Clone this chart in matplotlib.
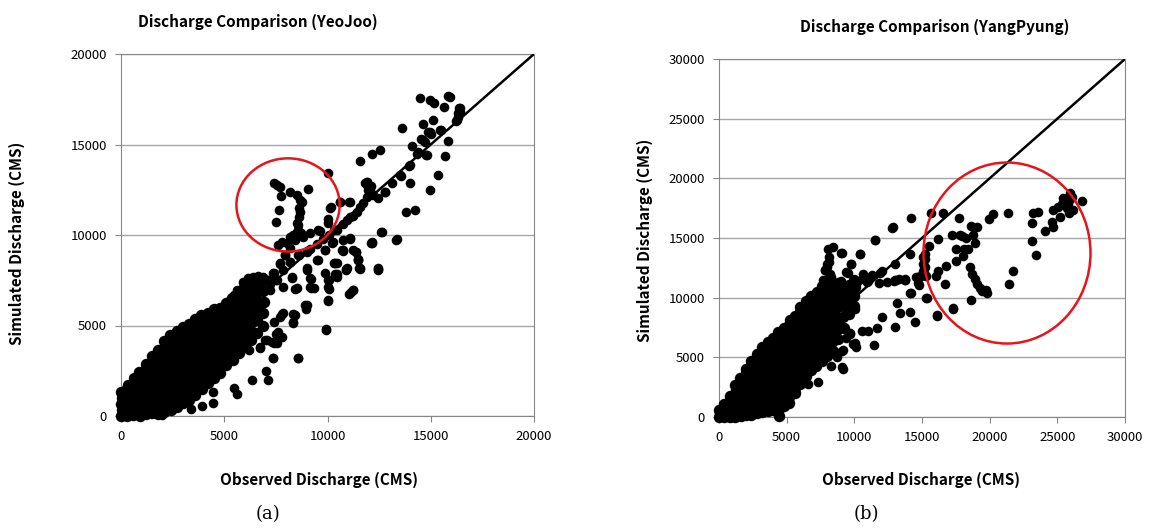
import matplotlib
matplotlib.use("Agg")
import matplotlib.pyplot as plt
from matplotlib.patches import Ellipse

# YeoJoo: (observed, simulated) discharge, CMS
a_cloud = [
    (0, 20), (30, 330), (0, 660), (50, 990), (20, 1320), (150, 1180),
    (300, 0), (280, 360), (320, 700), (290, 1050), (260, 1410), (330, 1690),
    (600, 60), (580, 390), (620, 760), (600, 1090), (560, 1450), (640, 1790), (610, 2110),
    (900, 0), (880, 320), (930, 660), (900, 990), (870, 1360), (930, 1700), (900, 2060), (880, 2440),
    (1200, 90), (1180, 440), (1230, 800), (1200, 1160), (1170, 1490), (1230, 1860), (1200, 2210), (1180, 2560), (1220, 2900),
    (1500, 150), (1480, 510), (1520, 850), (1500, 1210), (1470, 1550), (1530, 1890), (1500, 2260), (1480, 2600), (1520, 2950), (1500, 3310),
    (1800, 110), (1780, 450), (1820, 810), (1800, 1150), (1770, 1500), (1830, 1860), (1800, 2200), (1780, 2560), (1820, 2900), (1800, 3260), (1770, 3620),
    (2100, 240), (2080, 600), (2120, 950), (2100, 1300), (2070, 1660), (2130, 2000), (2100, 2350), (2080, 2710), (2120, 3050), (2100, 3400), (2080, 3760), (2060, 4150),
    (2400, 350), (2380, 700), (2420, 1050), (2400, 1400), (2370, 1750), (2430, 2100), (2400, 2450), (2380, 2800), (2420, 3150), (2400, 3500), (2370, 3850), (2410, 4200), (2380, 4500),
    (2700, 500), (2680, 850), (2720, 1200), (2700, 1550), (2670, 1900), (2730, 2250), (2700, 2600), (2680, 2950), (2720, 3300), (2700, 3650), (2670, 4000), (2710, 4350), (2690, 4700),
    (3000, 700), (2980, 1050), (3020, 1400), (3000, 1750), (2970, 2100), (3030, 2450), (3000, 2800), (2980, 3150), (3020, 3500), (3000, 3850), (2970, 4200), (3010, 4550), (2990, 4900),
    (3300, 900), (3280, 1250), (3320, 1600), (3300, 1950), (3270, 2300), (3330, 2650), (3300, 3000), (3280, 3350), (3320, 3700), (3300, 4050), (3270, 4400), (3310, 4750), (3290, 5100),
    (3600, 1150), (3580, 1500), (3620, 1850), (3600, 2200), (3570, 2550), (3630, 2900), (3600, 3250), (3580, 3600), (3620, 3950), (3600, 4300), (3570, 4650), (3610, 5000), (3590, 5350),
    (3900, 1500), (3880, 1850), (3920, 2200), (3900, 2550), (3870, 2900), (3930, 3250), (3900, 3600), (3880, 3950), (3920, 4300), (3900, 4650), (3870, 5000), (3910, 5300), (3890, 5600),
    (4200, 1800), (4180, 2150), (4220, 2500), (4200, 2850), (4170, 3200), (4230, 3550), (4200, 3900), (4180, 4250), (4220, 4600), (4200, 4950), (4170, 5300), (4210, 5700),
    (4500, 2100), (4480, 2450), (4520, 2800), (4500, 3150), (4470, 3500), (4530, 3850), (4500, 4200), (4480, 4550), (4520, 4900), (4500, 5250), (4470, 5600), (4510, 5900),
    (4800, 2400), (4780, 2750), (4820, 3100), (4800, 3450), (4770, 3800), (4830, 4150), (4800, 4500), (4780, 4850), (4820, 5200), (4800, 5550), (4790, 5950),
    (5100, 2800), (5080, 3150), (5120, 3500), (5100, 3850), (5070, 4200), (5130, 4550), (5100, 4900), (5080, 5250), (5120, 5600), (5100, 5950), (5090, 6250),
    (5400, 3100), (5380, 3450), (5420, 3800), (5400, 4150), (5370, 4500), (5430, 4850), (5400, 5200), (5380, 5550), (5420, 5900), (5400, 6200), (5390, 6500),
    (5700, 3500), (5680, 3850), (5720, 4200), (5700, 4550), (5670, 4900), (5730, 5250), (5700, 5600), (5680, 5950), (5720, 6300), (5700, 6700),
    (6000, 3800), (5980, 4300), (6020, 4800), (6000, 5300), (5970, 5800), (6030, 6300), (6000, 6700), (5980, 7100),
    (6300, 4200), (6280, 4700), (6320, 5200), (6300, 5700), (6270, 6200), (6330, 6700), (6300, 7300),
    (6600, 4600), (6580, 5300), (6620, 5900), (6600, 6400), (6570, 6900), (6630, 7500),
    (6900, 5000), (6880, 5700), (6920, 6300), (6900, 6900), (6870, 7500),
]

a_band = [
    (5300, 6400), (5450, 6700), (5600, 6950), (5900, 7400), (6150, 7600), (6400, 7700),
    (6650, 7750), (6900, 7700), (7050, 7500), (7200, 7300), (5800, 6300), (6000, 6700), (6200, 7000),
    (6500, 6800), (6800, 7100), (7100, 7500), (7400, 7900), (7700, 8400), (7950, 8900),
    (8200, 9300), (8450, 9700), (8700, 10100), (7200, 6950), (7500, 7500), (7850, 8050),
    (8200, 8500), (8600, 8900), (9000, 9100), (9150, 9250), (9500, 9500), (9800, 9800),
    (10050, 10000), (10300, 10250), (10450, 10300), (10750, 10600), (10930, 10830),
    (11100, 11000), (11250, 11050), (11410, 11290), (11560, 11550), (11740, 11750),
    (11900, 12100), (11980, 12490), (11820, 12860), (7540, 7510), (7380, 7880), (7700, 8430),
    (7940, 8900), (8180, 8530), (8590, 8890), (8990, 9080), (10280, 9630), (10770, 9720),
    (11090, 9820), (12060, 12490), (12220, 12210), (12460, 12030), (12790, 12400),
    (13110, 12860), (13510, 13320), (14000, 13870), (14400, 14600), (14800, 14420),
    (14640, 15250), (14960, 15710), (15450, 15800), (16260, 16350), (16340, 16720),
    (16420, 17000), (16370, 16990), (16440, 16810), (16320, 16530), (16240, 16290),
    (11900, 12950), (12100, 12700),
]

a_circle = [
    (7420, 12900), (7550, 12780), (7700, 12670), (7750, 12170), (8180, 12360), (8510, 12210),
    (8660, 11960), (8750, 11840), (8640, 11480), (8640, 11010), (8510, 10650), (8590, 10280),
    (9070, 12530), (7670, 11380), (7490, 10740), (8350, 10000), (8020, 9540), (7620, 9450),
    (7820, 9620), (8180, 9900), (8500, 10170), (8830, 9910), (9150, 10090), (9560, 10280),
    (9630, 10230), (10040, 10650), (10120, 11480), (10600, 11840), (11090, 11840),
    (10030, 13400), (10150, 11520), (8590, 10540), (8650, 11270),
]

a_scatter = [
    (14470, 17550), (14950, 17450), (15160, 17270), (15840, 17680), (15950, 17640), (15650, 17090),
    (13630, 15920), (14630, 16130), (15110, 16350), (14870, 15700), (15030, 15570), (15490, 15790),
    (15840, 15190), (14070, 14930), (14520, 15300), (14710, 15150), (14760, 14410), (15680, 14360),
    (14310, 14490), (13950, 13800), (13550, 13250), (15360, 13310), (13990, 12880), (14950, 12480),
    (13820, 11280), (14230, 11370), (12780, 12390), (12160, 14500), (12530, 14690), (11570, 14100),
    (11890, 12940), (11970, 12660), (12610, 10170), (12130, 9570), (13340, 9750), (12440, 8090),
    (11530, 8150), (11400, 9070), (11480, 8640), (10890, 8090), (11080, 9790), (10600, 11800),
    (11050, 11800), (10030, 10860), (10230, 9580), (9870, 9160), (10680, 9160), (9520, 8610),
    (10320, 8460), (10440, 7870), (10370, 7720), (9000, 8050), (9180, 7560), (9210, 7080),
    (9370, 7080), (10080, 7500), (10080, 7040), (10000, 6340), (8260, 7630), (8420, 7040),
    (8900, 6120), (8980, 5930), (11050, 6760), (11240, 6950), (9920, 4770), (8570, 3210),
    (8340, 5620), (8340, 5140), (7820, 5660), (7400, 5200), (7530, 4550), (7780, 4370),
    (7400, 4040), (6970, 4180), (6730, 3760), (6210, 3630), (7370, 3210), (7020, 2490),
    (7100, 2010), (6320, 1970), (5480, 1570), (5630, 1200), (4470, 1330), (4470, 720),
    (3900, 530), (3390, 400), (1970, 40), (7300, 4110),
    (9480, 8620), (8990, 8160), (9880, 9170), (10360, 8440), (10770, 9170), (11250, 9170),
    (11490, 8620), (11570, 8160), (10930, 8160), (9880, 7880), (10450, 7700), (10040, 7510),
    (9150, 7610), (9150, 7150), (10040, 7150), (10040, 6410), (11250, 6960), (12140, 9630),
    (12460, 8160), (8270, 7700), (8510, 7050), (7860, 7150), (8990, 6130), (7860, 5670),
    (8430, 5580), (8350, 5210), (7700, 5490), (7620, 4660), (7540, 4020), (7050, 4200),
    (6730, 3830), (7380, 3190), (8590, 3190), (9930, 4790),
    (12630, 10180), (13350, 9760), (12140, 9540), (10740, 9130), (11380, 9080), (11490, 8660),
    (11570, 8120), (12460, 8100), (10900, 8120), (10450, 8470), (10360, 7850), (11120, 6870),
]

# YangPyung
b_cloud = [
    (0, 0), (60, 300), (30, 560), (150, 150),
    (400, 0), (380, 400), (420, 800), (400, 1100),
    (800, 0), (780, 450), (820, 900), (800, 1350), (780, 1800),
    (1200, 0), (1180, 450), (1220, 900), (1200, 1350), (1170, 1800), (1230, 2250), (1200, 2650),
    (1600, 100), (1580, 550), (1620, 1000), (1600, 1450), (1570, 1900), (1630, 2350), (1600, 2800), (1580, 3250),
    (2000, 150), (1980, 600), (2020, 1050), (2000, 1500), (1970, 1950), (2030, 2400), (2000, 2850), (1980, 3300), (2020, 3700), (1990, 4050),
    (2400, 200), (2380, 650), (2420, 1100), (2400, 1550), (2370, 2000), (2430, 2450), (2400, 2900), (2380, 3350), (2420, 3800), (2400, 4250), (2380, 4700),
    (2800, 300), (2780, 750), (2820, 1200), (2800, 1650), (2770, 2100), (2830, 2550), (2800, 3000), (2780, 3450), (2820, 3900), (2800, 4350), (2770, 4800), (2810, 5250),
    (3200, 400), (3180, 850), (3220, 1300), (3200, 1750), (3170, 2200), (3230, 2650), (3200, 3100), (3180, 3550), (3220, 4000), (3200, 4450), (3170, 4900), (3210, 5400), (3190, 5900),
    (3600, 500), (3580, 950), (3620, 1400), (3600, 1850), (3570, 2300), (3630, 2750), (3600, 3200), (3580, 3650), (3620, 4100), (3600, 4550), (3570, 5000), (3610, 5500), (3590, 5950), (3600, 6300),
    (4000, 600), (3980, 1050), (4020, 1500), (4000, 1950), (3970, 2400), (4030, 2850), (4000, 3300), (3980, 3750), (4020, 4200), (4000, 4650), (3970, 5100), (4010, 5600), (3990, 6100), (4000, 6600),
    (4400, 100), (4400, 700), (4380, 1150), (4420, 1600), (4400, 2050), (4370, 2500), (4430, 2950), (4400, 3400), (4380, 3850), (4420, 4300), (4400, 4750), (4370, 5200), (4410, 5700), (4390, 6200), (4400, 6700), (4380, 7100),
    (4800, 900), (4780, 1350), (4820, 1800), (4800, 2250), (4770, 2700), (4830, 3150), (4800, 3600), (4780, 4050), (4820, 4500), (4800, 4950), (4770, 5400), (4810, 5900), (4790, 6400), (4800, 6900), (4780, 7450),
    (5200, 1200), (5180, 1650), (5220, 2100), (5200, 2550), (5170, 3000), (5230, 3450), (5200, 3900), (5180, 4350), (5220, 4800), (5200, 5250), (5170, 5700), (5210, 6200), (5190, 6700), (5200, 7200), (5180, 7700), (5210, 8100),
    (5600, 2000), (5580, 2450), (5620, 2900), (5600, 3350), (5570, 3800), (5630, 4250), (5600, 4700), (5580, 5150), (5620, 5600), (5600, 6050), (5570, 6500), (5610, 7000), (5590, 7500), (5600, 8000), (5580, 8500),
    (6000, 2800), (5980, 3300), (6020, 3800), (6000, 4300), (5970, 4800), (6030, 5300), (6000, 5800), (5980, 6300), (6020, 6800), (6000, 7300), (5970, 7800), (6010, 8300), (5990, 8800), (6000, 9200),
    (6400, 3400), (6380, 3900), (6420, 4400), (6400, 4900), (6370, 5400), (6430, 5900), (6400, 6400), (6380, 6900), (6420, 7400), (6400, 7900), (6370, 8400), (6410, 8900), (6390, 9300), (6400, 9700),
    (6800, 3900), (6780, 4500), (6820, 5100), (6800, 5700), (6770, 6300), (6830, 6900), (6800, 7500), (6780, 8100), (6820, 8700), (6800, 9300), (6770, 9800), (6810, 10100),
    (7200, 4300), (7180, 4900), (7220, 5500), (7200, 6100), (7170, 6700), (7230, 7300), (7200, 7900), (7180, 8500), (7220, 9100), (7200, 9600), (7170, 10100), (7210, 10500),
    (7600, 4700), (7580, 5300), (7620, 5900), (7600, 6500), (7570, 7100), (7630, 7800), (7600, 8500), (7580, 9200), (7620, 9900), (7600, 10500), (7580, 11000),
    (8000, 5100), (7980, 5800), (8020, 6500), (8000, 7300), (7970, 8100), (8030, 8900), (8000, 9700), (7980, 10400), (8020, 11000), (8000, 11500),
    (8400, 5500), (8380, 6300), (8420, 7200), (8400, 8000), (8370, 8800), (8430, 9600), (8400, 10400), (8380, 11000),
    (8800, 6500), (8780, 7400), (8820, 8300), (8800, 9200), (8770, 10000), (8830, 10800),
    (9200, 7500), (9180, 8400), (9220, 9300), (9200, 10100), (9170, 10900),
    (9600, 8600), (9580, 9500), (9620, 10300), (9600, 11100),
    (10000, 9300), (9980, 10100), (10020, 10900), (10000, 11500),
]

b_scatter = [
    (8060, 14120), (8430, 14260), (8130, 13420), (7990, 12580), (8180, 12020), (7810, 12300),
    (8100, 13000), (8000, 12800), (8310, 11740), (7700, 11500), (7850, 11200),
    (9050, 13780), (10450, 13620), (9790, 12810), (9420, 12160), (9240, 10570), (9400, 10300),
    (9840, 9280), (9660, 9000), (10030, 9090), (10650, 12020), (10650, 11600), (10900, 11320),
    (11340, 11880), (11830, 11240), (12080, 12250), (11540, 14820), (12820, 15850), (14220, 16640),
    (12920, 11410), (13100, 11500), (13310, 11550), (13730, 11460), (14100, 13640), (13040, 12780),
    (14670, 11690), (14910, 11830), (14770, 11040), (14170, 10350), (15330, 10010), (15700, 17060),
    (16570, 17060), (15500, 14340), (15090, 13420), (15090, 12800), (15100, 12200), (15200, 13700),
    (15250, 13200), (15220, 12600), (15180, 12100), (15260, 11800), (16150, 14900), (16200, 12220),
    (16070, 11800), (16760, 12640), (16690, 11180), (16120, 8500), (17300, 9090), (17180, 15240),
    (17750, 16640), (17800, 15290), (17950, 15200), (18240, 14960), (17480, 14120), (17500, 13060),
    (18090, 14040), (18410, 14040), (18040, 13480), (18610, 15990), (19080, 15940), (18780, 15240),
    (18950, 14600), (18540, 12580), (18660, 12020), (18910, 11600), (19080, 11180), (19320, 10850),
    (19470, 10570), (19720, 10680), (19770, 10350), (18610, 9790), (19970, 16580), (20260, 17000),
    (21370, 17110), (21420, 11180), (21690, 12250), (23100, 16220), (23170, 17110), (23590, 17200),
    (23100, 14760), (23400, 13560), (24090, 15570), (24580, 16360), (24650, 17340), (24700, 15940),
    (25070, 17620), (25320, 17810), (25200, 16780), (25390, 18320), (25810, 17810), (25930, 18730),
    (26060, 18460), (25890, 17060), (26130, 17340), (26800, 18120), (25950, 18300), (25700, 17500),
    (10170, 11340), (10660, 11620), (11000, 11400), (11900, 12040), (12390, 11340), (13000, 11480),
    (13740, 11480), (14730, 11760), (14560, 11760), (13740, 11540), (14730, 11200), (14110, 10370),
    (15350, 9950), (16080, 8550), (17320, 9110), (13130, 9530), (13370, 8690), (14110, 8830),
    (14480, 7990), (13000, 7570), (12020, 8410), (11650, 7430), (11030, 7240), (10540, 7240),
    (9680, 7010), (10050, 6170), (11480, 6030), (9070, 4220), (12880, 15950), (11530, 14830),
    (9070, 13770), (10420, 13630), (9730, 12820), (9510, 12100), (7830, 12320),
    (9170, 4050), (7320, 2940), (6580, 2800), (8700, 5000), (9100, 5500), (8300, 4300),
    (9660, 6990), (9910, 6150), (10160, 5870), (9170, 5590), (9400, 6600), (8900, 7600),
    (9500, 10900), (9000, 11400), (8800, 11300),
]

W, H = 1153, 529
fig = plt.figure(figsize=(W / 100, H / 100), dpi=100)
plt.rcParams['font.family'] = ['Noto Sans CJK KR', 'DejaVu Sans']

ax1 = fig.add_axes([121 / W, 1 - 416 / H, 413 / W, 362 / H])
ax2 = fig.add_axes([719 / W, 1 - 417 / H, 406 / W, 358 / H])


def style(ax, top):
    ax.set_xlim(0, top)
    ax.set_ylim(0, top)
    ax.set_xticks(range(0, top + 1, 5000))
    ax.set_yticks(range(0, top + 1, 5000))
    ax.yaxis.grid(True, color='#a6a6a6', lw=1)
    ax.set_axisbelow(True)
    for s in ax.spines.values():
        s.set_color('#868686')
    ax.tick_params(length=4, color='#868686', labelsize=9.5, pad=6)


def draw(ax, cloud, others, top):
    ax.scatter([p[0] for p in cloud], [p[1] for p in cloud], s=68,
               color='black', linewidths=0, zorder=3, clip_on=False)
    for g in others:
        ax.scatter([p[0] for p in g], [p[1] for p in g], s=48,
                   color='black', linewidths=0, zorder=3, clip_on=False)
    ax.plot([0, top], [0, top], color='black', lw=1.8, zorder=4)


style(ax1, 20000)
draw(ax1, a_cloud, [a_band, a_circle, a_scatter], 20000)
ax1.add_patch(Ellipse((8090, 11660), 5000, 5150, fill=False, edgecolor='#e8141c', lw=1.8, zorder=5))

style(ax2, 30000)
draw(ax2, b_cloud, [b_scatter], 30000)
ax2.add_patch(Ellipse((21280, 13740), 12340, 15170, fill=False, edgecolor='#e8141c', lw=1.8, zorder=5))

bold = dict(fontsize=11, fontweight='bold', ha='center', va='center')
fig.text(258 / W, 1 - 22 / H, 'Discharge Comparison (YeoJoo)', **bold)
fig.text(935 / W, 1 - 27 / H, 'Discharge Comparison (YangPyung)', **bold)
fig.text(319 / W, 1 - 480 / H, 'Observed Discharge (CMS)', **bold)
fig.text(921 / W, 1 - 480 / H, 'Observed Discharge (CMS)', **bold)
fig.text(17 / W, 1 - 243 / H, 'Simulated Discharge (CMS)', rotation=90, **bold)
fig.text(645 / W, 1 - 240 / H, 'Simulated Discharge (CMS)', rotation=90, **bold)
fig.text(268 / W, 1 - 514 / H, '(a)', fontsize=13, family='DejaVu Serif', ha='center', va='center')
fig.text(866 / W, 1 - 514 / H, '(b)', fontsize=13, family='DejaVu Serif', ha='center', va='center')

fig.savefig('out.png', dpi=100)
